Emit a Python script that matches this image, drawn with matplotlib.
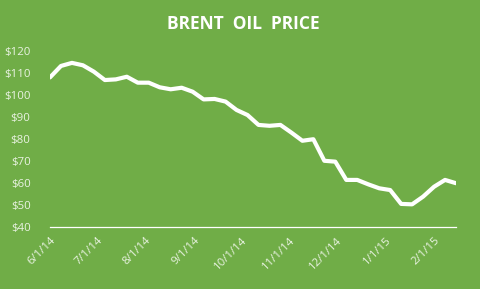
import numpy as np
import pandas as pd
import matplotlib
matplotlib.use("Agg")
import matplotlib.pyplot as plt
import matplotlib.dates as mdates
from matplotlib.ticker import FuncFormatter

# weekly Brent prices
start_date = "2014-06-01"
prices = [108.0, 113.2, 114.6, 113.5, 110.6, 106.8, 107.1, 108.3, 105.6, 105.6,
          103.5, 102.6, 103.3, 101.5, 98.0, 98.2, 97.0, 93.2, 90.9, 86.4,
          86.0, 86.4, 82.9, 79.2, 79.9, 70.1, 69.7, 61.4, 61.4, 59.4,
          57.6, 56.8, 50.5, 50.3, 53.8, 58.3, 61.4, 59.9]
dates = pd.date_range(start_date, periods=len(prices), freq="7D")

month_ticks = pd.date_range("2014-06-01", "2015-02-01", freq="MS")
y_ticks = [40, 50, 60, 70, 80, 90, 100, 110, 120]

bg = "#70AD47"
fg = "white"

fig = plt.figure(figsize=(4.81, 2.89), dpi=100, facecolor=bg)
ax = fig.add_axes([50/481, 1 - 227/289, 406/481, 176/289], facecolor=bg)

ax.plot(dates, prices, color=fg, linewidth=3.0,
        solid_joinstyle="round", solid_capstyle="round")

ax.set_xlim(dates[0], dates[-1])
ax.set_ylim(40, 120)

def date_label(v, p):
    d = mdates.num2date(v)
    return "%d/%d/%d" % (d.month, d.day, d.year % 100)

ax.set_yticks(y_ticks)
ax.yaxis.set_major_formatter(FuncFormatter(lambda v, p: "$%d" % v))
ax.set_xticks(month_ticks)
ax.xaxis.set_major_formatter(FuncFormatter(date_label))

for s in ["top", "right", "left"]:
    ax.spines[s].set_visible(False)
ax.spines["bottom"].set_color(fg)
ax.spines["bottom"].set_linewidth(0.9)
ax.spines["bottom"].set_position(("data", 40))

ax.tick_params(axis="both", length=0, colors="#EAF3E3", labelsize=8.2)
ax.tick_params(axis="y", pad=14)
ax.tick_params(axis="x", pad=6)
for lab in ax.get_xticklabels():
    lab.set_rotation(45)
    lab.set_ha("right")
    lab.set_rotation_mode("anchor")
for lab in ax.get_xticklabels() + ax.get_yticklabels():
    lab.set_fontfamily("Open Sans")

fig.text(0.505, 0.918, "BRENT  OIL  PRICE",
         ha="center", va="center", color=fg, fontsize=12.5, fontweight="bold",
         family=["Open Sans", "DejaVu Sans"])

fig.savefig("out.png", dpi=100, facecolor=bg)
